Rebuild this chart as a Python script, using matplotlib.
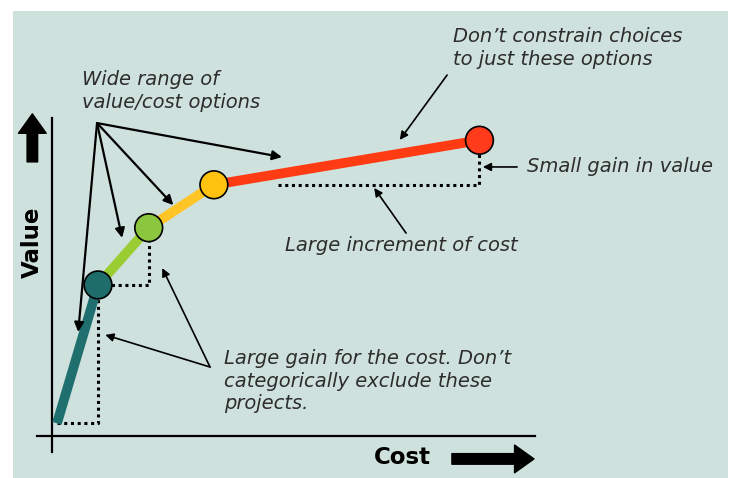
import matplotlib
matplotlib.use("Agg")
import matplotlib.pyplot as plt
from matplotlib.patches import Rectangle

# options on the value/cost curve (arbitrary units)
start_cost, start_value = 0.1, 0.4
option_cost = [0.95, 2.0, 3.35, 8.85]
option_value = [4.75, 6.55, 7.9, 9.3]
option_colors = ["#1f6d6b", "#8cc63f", "#ffc20e", "#ff3b1c"]
segment_colors = ["#1f6f6f", "#9acd32", "#ffc425", "#ff3b14"]

BG = "#cfe1dd"
TEXT = "#2d2d2d"

fig = plt.figure(figsize=(7.31, 4.78), dpi=100)
fig.set_facecolor("white")

ax = fig.add_axes([0, 0, 1, 1])
ax.set_xlim(-1.08, 14.06)
ax.set_ylim(-1.32, 13.71)
ax.axis("off")
# slide background panel (white margin top/left)
ax.add_patch(Rectangle((13 / 731, 0), 715 / 731, 467 / 478, transform=ax.transAxes,
                       facecolor=BG, edgecolor="none", zorder=0))

# axes lines
ax.plot([0, 0], [-0.5, 10.0], color="black", lw=1.6, zorder=2)
ax.plot([-0.31, 10.0], [0, 0], color="black", lw=1.6, zorder=2)

# dotted step guides
dot = dict(color="black", lw=2.2, linestyle=(0, (1, 1.2)), dash_capstyle="butt", zorder=3)
ax.plot([start_cost, option_cost[0], option_cost[0]],
        [start_value, start_value, option_value[0]], **dot)
ax.plot([option_cost[0], option_cost[1], option_cost[1]],
        [option_value[0], option_value[0], option_value[1]], **dot)
ax.plot([4.68, option_cost[3], option_cost[3]],
        [option_value[2], option_value[2], option_value[3]], **dot)

# curve segments
xs = [start_cost] + option_cost
ys = [start_value] + option_value
for i, c in enumerate(segment_colors):
    ax.plot(xs[i:i + 2], ys[i:i + 2], color=c, lw=7, solid_capstyle="butt", zorder=4)
ax.scatter(option_cost, option_value, s=400, c=option_colors,
           edgecolors="black", linewidths=1.2, zorder=5)

# annotation arrows
arr = dict(arrowstyle="-|>", color="black", lw=1.6, mutation_scale=14, shrinkA=0, shrinkB=0)
origin = (0.93, 9.84)
for tip in [(4.76, 8.77), (2.51, 7.26), (1.45, 6.23), (0.54, 3.27)]:
    ax.annotate("", xy=tip, xytext=origin, arrowprops=arr, zorder=6)
thin = dict(arr, lw=1.2, mutation_scale=12)
ax.annotate("", xy=(7.20, 9.31), xytext=(8.18, 11.35), arrowprops=thin)
ax.annotate("", xy=(8.92, 8.46), xytext=(9.63, 8.46), arrowprops=thin)
ax.annotate("", xy=(6.67, 7.80), xytext=(7.33, 6.38), arrowprops=thin)
ax.annotate("", xy=(2.28, 5.28), xytext=(3.27, 2.17), arrowprops=thin)
ax.annotate("", xy=(1.10, 3.18), xytext=(3.27, 2.17), arrowprops=thin)

# texts
it = dict(fontsize=14, style="italic", color=TEXT, ha="left", va="center", linespacing=1.25)
ax.text(0.62, 10.85, "Wide range of\nvalue/cost options", **it)
ax.text(8.30, 12.19, "Don\u2019t constrain choices\nto just these options", **it)
ax.text(9.83, 8.46, "Small gain in value", **it)
ax.text(4.82, 6.0, "Large increment of cost", **it)
ax.text(3.56, 1.73, "Large gain for the cost. Don\u2019t\ncategorically exclude these\nprojects.", **it)

ax.text(7.25, -0.69, "Cost", fontsize=16.5, fontweight="bold", ha="center", va="center")
ax.text(-0.41, 6.10, "Value", fontsize=16.5, fontweight="bold", ha="center", va="center",
        rotation=90)

big = dict(arrowstyle="simple,head_length=0.7,head_width=1.0,tail_width=0.38",
           color="black", mutation_scale=20, shrinkA=0, shrinkB=0)
ax.annotate("", xy=(9.98, -0.72), xytext=(8.28, -0.72), arrowprops=big)
ax.annotate("", xy=(-0.41, 10.13), xytext=(-0.41, 8.62), arrowprops=big)

fig.savefig("out.png", dpi=100)
plt.close(fig)
